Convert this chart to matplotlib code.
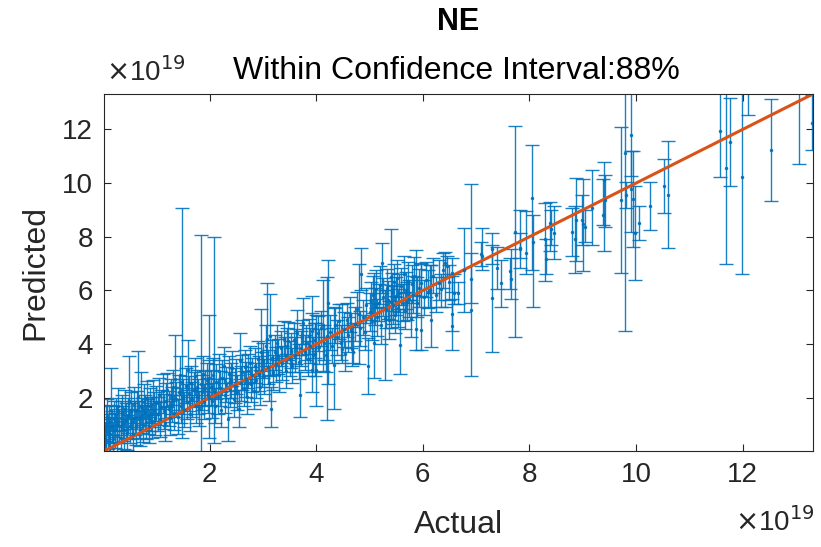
import matplotlib
matplotlib.use("Agg")
import matplotlib.pyplot as plt
import numpy as np

# values in units of 1e19: actual, predicted, lower bound, upper bound
actual = [
    0.02, 0.03, 0.05, 0.06, 0.08, 0.09, 0.11, 0.12, 0.14, 0.16, 0.17, 0.19, 0.21, 0.22, 0.24,
    0.26, 0.27, 0.29, 0.31, 0.33, 0.34, 0.36, 0.38, 0.40, 0.41, 0.43, 0.45, 0.47, 0.49, 0.50,
    0.52, 0.54, 0.56, 0.58, 0.60, 0.62, 0.64, 0.66, 0.68, 0.70, 0.71, 0.73, 0.75, 0.77, 0.79,
    0.81, 0.82, 0.84, 0.86, 0.88, 0.90, 0.92, 0.94, 0.96, 0.98,
    1.00, 1.03, 1.05, 1.07, 1.09, 1.12, 1.14, 1.16, 1.18, 1.20, 1.23, 1.25, 1.27, 1.30, 1.32,
    1.34, 1.36, 1.38, 1.40, 1.42, 1.45, 1.47, 1.49, 1.51, 1.53, 1.55, 1.57, 1.60, 1.62, 1.64,
    1.66, 1.68, 1.71, 1.73, 1.75, 1.77, 1.79, 1.81, 1.84, 1.86, 1.88, 1.90, 1.92, 1.95, 1.97,
    1.99, 1.99,
    2.02, 2.04, 2.06, 2.08, 2.10, 2.13, 2.15, 2.17, 2.19, 2.21, 2.24, 2.27, 2.29, 2.31, 2.35,
    2.36, 2.38, 2.41, 2.43, 2.45, 2.48, 2.50, 2.52, 2.55, 2.57, 2.59, 2.61, 2.64, 2.66, 2.68,
    2.71, 2.73, 2.76, 2.78, 2.80, 2.83, 2.85, 2.88, 2.90, 2.92, 2.94, 2.96, 2.98,
    3.01, 3.03, 3.05, 3.07, 3.09, 3.11, 3.13, 3.15, 3.17, 3.19, 3.22, 3.24, 3.27, 3.29, 3.31,
    3.34, 3.36, 3.39, 3.41, 3.44, 3.46, 3.48, 3.50, 3.53, 3.55, 3.58, 3.60, 3.62, 3.64, 3.67,
    3.69, 3.72, 3.74, 3.76, 3.79, 3.81, 3.84, 3.86, 3.89, 3.92, 3.94, 3.98,
    3.93, 4.00, 3.98, 4.03, 4.06, 4.09, 4.12, 4.15, 4.18, 4.20, 4.23, 4.26, 4.29, 4.33, 4.36,
    4.40, 4.43, 4.46, 4.49, 4.52, 4.54, 4.57, 4.60, 4.63, 4.66, 4.68, 4.70, 4.73, 4.76, 4.80,
    4.83, 4.85, 4.88, 4.91, 4.94, 4.97,
    5.01, 5.03, 5.05, 5.07, 5.09, 5.11, 5.13, 5.15, 5.17, 5.19, 5.21, 5.24, 5.26, 5.29, 5.31,
    5.33, 5.35, 5.37, 5.40, 5.40, 5.42, 5.44, 5.46, 5.48, 5.50, 5.52, 5.54, 5.56, 5.58, 5.60,
    5.62, 5.64, 5.66, 5.68, 5.70, 5.72, 5.74, 5.77, 5.79, 5.81, 5.84, 5.87, 5.90, 5.93, 5.97,
    5.97,
    6.03, 6.06, 6.09, 6.13, 6.16, 6.20, 6.25, 6.30, 6.35, 6.38, 6.41, 6.45, 6.49, 6.54, 6.54,
    6.55, 6.59, 6.66, 6.77, 6.90, 6.91, 7.09, 7.12, 7.29, 7.29, 7.40, 7.47, 7.64, 7.65, 7.73,
    7.83, 7.83, 7.94,
    8.05, 8.07, 8.30, 8.32, 8.39, 8.41, 8.47, 8.79, 8.85, 8.88, 8.99, 9.01, 9.05, 9.18, 9.39,
    9.40, 9.41, 9.71, 9.79, 9.82, 9.90, 9.91, 9.94, 9.98, 10.05, 10.27, 10.52, 10.60,
    11.58, 11.68, 11.76, 11.98, 12.11, 12.54, 13.06, 13.31,
]
predicted = [
    0.55, 0.25, 1.05, 0.40, 1.30, 0.75, 0.30, 1.10, 0.65, 1.55, 0.90, 0.45, 1.20, 0.80, 1.40,
    0.60, 1.00, 1.70, 0.95, 1.25, 0.50, 1.45, 1.05, 0.80, 1.60, 1.15, 0.70, 1.35, 1.90, 0.95,
    1.50, 1.10, 0.65, 1.75, 1.25, 0.90, 1.55, 2.05, 1.20, 0.85, 1.65, 1.35, 1.00, 1.85, 1.45,
    1.10, 1.95, 1.30, 0.95, 1.70, 1.40, 1.15, 2.00, 1.55, 1.25,
    1.80, 1.40, 2.10, 1.20, 1.65, 2.25, 1.50, 1.05, 1.90, 2.30, 1.60, 1.25, 2.05, 1.75, 2.40,
    1.45, 2.70, 1.95, 1.30, 2.20, 2.85, 1.70, 2.60, 2.05, 1.55, 2.45, 1.85, 3.05, 2.15, 1.40,
    2.55, 1.95, 2.30, 2.80, 1.70, 2.40, 2.05, 1.60, 2.50, 2.20, 2.90, 1.85, 2.35, 2.65, 2.10,
    2.00, 2.75,
    2.40, 1.90, 2.85, 2.20, 1.70, 2.60, 2.05, 3.00, 2.35, 1.55, 2.75, 3.20, 2.10, 2.50, 1.20,
    2.90, 2.30, 2.65, 3.10, 1.95, 2.45, 2.80, 2.20, 1.60, 3.40, 2.55, 2.95, 2.35, 3.15, 2.70,
    2.05, 3.00, 3.30, 2.50, 2.85, 2.25, 3.20, 2.65, 3.45, 2.90, 2.40, 3.70, 3.05,
    3.40, 2.80, 3.95, 4.20, 3.15, 2.55, 4.30, 1.60, 3.50, 2.95, 3.70, 3.25, 4.05, 3.55, 2.85,
    3.85, 3.30, 4.20, 3.60, 3.00, 3.95, 4.10, 3.45, 3.75, 3.20, 4.15, 3.60, 3.90, 4.40, 3.35,
    2.10, 3.85, 4.25, 4.80, 3.70, 4.05, 3.45, 4.30, 3.95, 4.50, 3.60, 4.15,
    3.02, 3.02, 3.65, 4.40, 3.90, 4.60, 4.70, 4.05, 3.60, 4.30, 5.54, 4.45, 3.95, 3.21, 4.70,
    4.25, 4.85, 4.05, 3.81, 4.55, 3.65, 4.90, 4.35, 5.10, 4.50, 3.83, 3.70, 4.75, 5.30, 5.14,
    4.60, 6.62, 5.00, 4.45, 5.45, 3.18,
    5.20, 5.60, 4.85, 5.85, 4.05, 5.40, 6.05, 5.00, 5.55, 6.20, 4.70, 7.02, 5.75, 4.96, 5.30,
    6.10, 5.65, 4.90, 6.52, 5.58, 5.95, 5.45, 6.30, 5.10, 5.80, 6.45, 5.35, 5.90, 3.96, 6.15,
    5.55, 6.60, 5.25, 6.00, 5.58, 6.35, 5.70, 4.95, 6.25, 5.85, 6.55, 4.58, 5.52, 6.10, 4.52,
    6.27,
    5.75, 6.40, 5.95, 6.02, 4.89, 6.55, 5.85, 6.27, 6.06, 6.75, 7.02, 6.92, 6.30, 4.68, 5.14,
    6.64, 5.92, 5.89, 6.77, 6.42, 5.27, 7.37, 7.29, 5.71, 7.54, 6.83, 6.27, 6.73, 6.43, 8.19,
    7.55, 7.57, 7.38,
    9.46, 7.79, 7.92, 7.17, 8.50, 8.28, 8.16, 8.19, 7.90, 8.64, 8.64, 8.46, 8.38, 9.08, 8.80,
    10.13, 9.38, 9.38, 11.12, 9.56, 11.79, 9.78, 9.41, 8.15, 8.53, 9.15, 9.89, 9.56,
    11.94, 10.58, 11.54, 10.24, 14.00, 11.22, 13.80, 12.25,
]
lower = [
    0.00, -0.30, 0.40, -0.20, 0.60, 0.10, -0.40, 0.45, 0.00, 0.80, 0.30, -0.20, 0.55, 0.15, 0.75,
    -0.05, 0.35, 1.00, 0.30, 0.60, -0.15, 0.80, 0.40, 0.10, 0.90, 0.50, 0.05, 0.70, 1.20, 0.30,
    0.85, 0.45, 0.00, 1.05, 0.60, 0.25, 0.90, 1.30, 0.50, 0.20, 1.00, 0.70, 0.35, 1.20, 0.80,
    0.45, 1.30, 0.65, 0.30, 1.05, 0.75, 0.50, 1.35, 0.90, 0.60,
    1.15, 0.75, 1.45, 0.55, 1.00, 1.60, 0.85, 0.40, 1.25, 1.65, 0.95, 0.60, 1.40, 1.10, 1.75,
    0.80, 1.95, 1.30, 0.65, 1.55, 2.10, 1.05, 0.50, 1.40, 0.90, 1.80, 1.20, 2.30, 1.50, 0.75,
    1.90, 1.30, 1.65, 2.10, 1.05, 1.75, 1.40, 0.95, 0.00, 1.55, 2.25, 1.20, 1.70, 2.00, 1.45,
    0.50, 2.10,
    1.75, 1.25, 2.20, 0.30, 1.05, 1.95, 1.40, 2.35, 1.70, 0.90, 2.10, 2.55, 1.45, 1.85, 0.40,
    2.25, 1.65, 2.00, 2.45, 1.30, 1.80, 2.15, 1.55, 0.90, 2.70, 1.90, 2.30, 1.70, 2.50, 2.05,
    1.40, 2.35, 2.60, 1.85, 2.20, 1.60, 2.55, 2.00, 2.80, 2.25, 1.75, 3.00, 2.40,
    2.75, 2.15, 3.20, 3.30, 2.50, 1.90, 2.80, 0.90, 2.85, 2.30, 3.05, 2.60, 3.40, 2.90, 2.20,
    3.20, 2.65, 3.55, 2.95, 2.35, 3.30, 3.40, 2.80, 3.10, 2.55, 3.50, 2.95, 3.25, 3.60, 2.70,
    1.27, 3.20, 3.60, 4.00, 3.05, 3.40, 2.80, 3.65, 3.30, 3.85, 2.95, 3.50,
    2.20, 1.70, 2.80, 3.75, 3.25, 3.95, 3.00, 3.40, 2.95, 1.18, 2.52, 3.80, 3.30, 1.59, 4.05,
    3.60, 4.20, 3.40, 3.30, 3.90, 3.00, 4.25, 3.70, 4.45, 3.85, 3.20, 3.30, 4.10, 4.65, 3.27,
    3.95, 6.02, 4.35, 3.80, 4.80, 2.15,
    4.50, 4.90, 4.15, 5.15, 2.73, 4.70, 5.35, 4.30, 4.85, 5.50, 4.00, 5.90, 5.05, 2.67, 4.60,
    5.40, 4.95, 4.20, 4.89, 4.60, 5.25, 4.75, 5.60, 4.40, 5.10, 5.75, 4.65, 5.20, 2.90, 5.45,
    4.85, 5.90, 4.55, 5.30, 4.90, 5.65, 5.00, 4.25, 5.55, 5.15, 5.85, 3.80, 5.00, 5.40, 3.77,
    5.80,
    5.10, 5.75, 5.33, 5.40, 3.90, 5.90, 5.20, 5.64, 5.40, 6.10, 5.39, 6.50, 5.65, 3.80, 4.50,
    5.95, 5.50, 5.50, 5.18, 5.54, 2.80, 6.90, 6.77, 3.71, 7.00, 6.06, 5.39, 6.07, 5.67, 4.27,
    6.85, 7.22, 6.63,
    6.78, 5.38, 6.36, 6.60, 7.47, 7.70, 7.19, 7.30, 6.66, 7.08, 7.70, 6.73, 7.82, 7.68, 8.45,
    7.47, 8.38, 6.66, 4.48, 9.09, 10.25, 8.19, 7.63, 6.38, 7.88, 8.25, 8.90, 7.57,
    10.21, 6.98, 9.91, 6.61, 12.54, 9.33, 10.71, 11.25,
]
upper = [
    1.20, 0.90, 1.70, 1.00, 1.95, 1.40, 0.95, 1.75, 1.30, 3.12, 1.50, 1.10, 1.90, 1.45, 2.00,
    1.25, 1.70, 2.35, 1.60, 1.90, 1.15, 2.10, 1.70, 1.50, 2.30, 1.80, 1.35, 2.00, 3.56, 1.60,
    2.20, 1.80, 1.30, 2.40, 1.90, 1.55, 2.25, 3.75, 1.90, 1.50, 2.95, 2.00, 1.70, 2.50, 2.10,
    1.75, 2.62, 1.95, 1.60, 2.35, 2.05, 1.80, 2.65, 2.20, 1.90,
    2.45, 2.05, 2.75, 1.85, 2.30, 2.90, 2.15, 1.70, 2.55, 2.93, 2.25, 1.90, 2.70, 2.40, 3.05,
    2.10, 4.33, 2.60, 1.95, 2.85, 3.56, 2.35, 9.09, 2.70, 2.20, 3.10, 2.50, 4.15, 2.80, 2.05,
    3.20, 2.60, 2.95, 3.50, 2.35, 3.05, 2.70, 2.25, 8.05, 2.85, 3.55, 2.50, 3.00, 3.30, 2.75,
    5.08, 3.40,
    3.05, 2.55, 3.50, 7.98, 2.35, 3.25, 2.70, 3.65, 3.00, 2.20, 3.40, 3.90, 2.75, 3.15, 2.00,
    3.55, 2.95, 3.30, 3.75, 2.60, 3.10, 3.45, 2.85, 2.30, 4.42, 3.20, 3.60, 3.00, 3.80, 3.35,
    2.70, 3.65, 3.95, 3.15, 3.50, 2.90, 3.85, 3.30, 4.10, 3.55, 3.05, 5.31, 3.70,
    4.05, 3.45, 4.70, 6.29, 3.80, 3.20, 5.87, 2.40, 4.15, 3.60, 4.35, 3.90, 4.70, 4.20, 3.50,
    4.50, 3.95, 4.85, 4.25, 3.65, 4.60, 4.81, 4.10, 4.40, 3.85, 4.80, 4.25, 4.55, 5.27, 4.00,
    2.95, 4.50, 4.90, 5.71, 4.35, 4.70, 4.10, 4.95, 4.60, 5.15, 4.25, 4.80,
    5.80, 5.10, 4.80, 5.05, 4.55, 5.25, 6.40, 4.70, 4.25, 6.50, 7.12, 5.10, 4.60, 5.37, 5.35,
    4.90, 5.50, 4.70, 5.50, 5.20, 4.10, 5.55, 5.00, 5.75, 5.15, 4.70, 4.80, 5.40, 5.95, 7.00,
    5.25, 7.60, 5.65, 5.10, 6.10, 4.23,
    5.90, 6.30, 5.55, 6.55, 6.64, 6.10, 6.75, 5.70, 6.25, 6.90, 5.40, 7.77, 6.45, 6.00, 6.00,
    6.80, 6.35, 5.60, 8.29, 6.20, 6.65, 6.15, 7.00, 5.80, 6.50, 7.15, 6.05, 6.60, 5.30, 6.85,
    6.25, 7.30, 5.95, 6.70, 6.30, 7.05, 6.40, 5.65, 6.95, 6.55, 7.25, 7.50, 6.50, 6.80, 7.04,
    7.00,
    6.40, 7.05, 6.77, 6.96, 6.96, 7.20, 6.50, 7.14, 6.60, 7.40, 7.45, 7.27, 6.95, 5.68, 6.55,
    7.20, 6.60, 6.30, 8.33, 7.39, 9.95, 7.80, 8.33, 8.14, 7.70, 7.62, 7.14, 7.20, 7.54, 12.13,
    9.00, 8.13, 8.97,
    11.41, 8.82, 9.25, 7.90, 9.29, 9.00, 9.13, 9.08, 9.15, 10.19, 9.56, 10.16, 8.99, 10.48, 10.17,
    10.79, 10.31, 12.10, 14.00, 10.04, 14.00, 11.19, 11.19, 9.91, 9.16, 10.05, 10.89, 11.57,
    14.50, 14.00, 13.16, 14.00, 15.50, 13.13, 16.00, 13.30,
]

x_ticks = [2, 4, 6, 8, 10, 12]
y_ticks = [2, 4, 6, 8, 10, 12]
lims = (0.02, 13.32)

plt.rcParams["font.family"] = ["Liberation Sans", "DejaVu Sans"]

act = np.array(actual)
pred = np.array(predicted)
err = np.vstack([pred - np.array(lower), np.array(upper) - pred])

fig = plt.figure(figsize=(8.21, 5.47), dpi=100)
ax = fig.add_axes([104 / 821, 1 - 451 / 547, 709 / 821, 357 / 547])

ax.errorbar(act, pred, yerr=err, fmt=".", color="#0072BD", ecolor="#0072BD",
            markersize=3, elinewidth=1.0, capsize=5, capthick=1.0, alpha=0.9)
ax.axline((0, 0), slope=1, color="#D95319", linewidth=2.2)

ax.set_xlim(lims)
ax.set_ylim(lims)
ax.set_xticks(x_ticks)
ax.set_yticks(y_ticks)
ax.tick_params(direction="in", top=True, right=True, length=5, width=0.8,
               labelsize=20, colors="#262626", pad=8)
for s in ax.spines.values():
    s.set_color("#262626")
    s.set_linewidth(0.8)

ax.set_xlabel("Actual", fontsize=23, color="#262626", labelpad=16)
ax.set_ylabel("Predicted", fontsize=23, color="#262626", labelpad=8)
fig.text(458 / 821, 1 - 22 / 547, "NE", ha="center", va="center",
         fontsize=22, fontweight="bold")
fig.text(456 / 821, 1 - 71 / 547, "Within Confidence Interval:88%", ha="center",
         va="center", fontsize=23)
fig.text(106 / 821, 1 - 72 / 547, r"$\times$10$^{19}$", ha="left", va="center",
         fontsize=20, color="#262626")
fig.text(815 / 821, 1 - 522 / 547, r"$\times$10$^{19}$", ha="right", va="center",
         fontsize=20, color="#262626")

fig.savefig("out.png", dpi=100)
